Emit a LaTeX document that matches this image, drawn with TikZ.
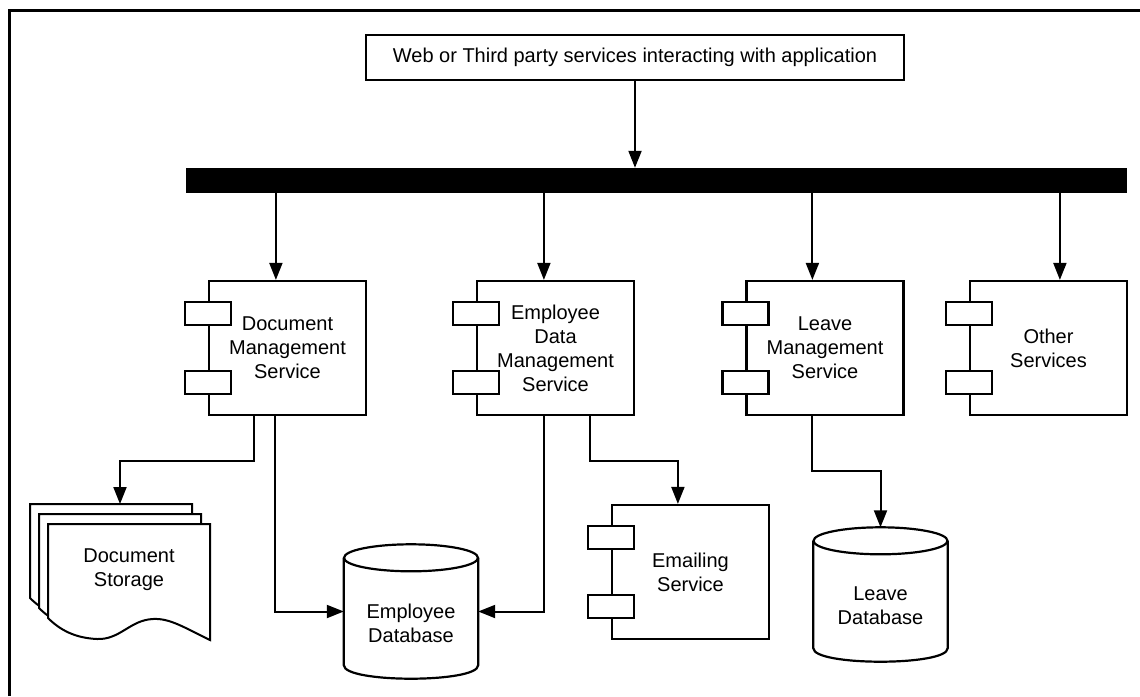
\documentclass[tikz,border=0pt]{standalone}
\usepackage{fontspec}
\setmainfont{Liberation Sans}
\usetikzlibrary{arrows.meta,calc}

\tikzset{
  svc/.style={draw,line width=2.2pt,fill=white,minimum width=157pt,minimum height=134pt,inner sep=0pt,align=center},
  port/.style={draw,line width=2.2pt,fill=white,minimum width=46pt,minimum height=23pt,inner sep=0pt},
  link/.style={line width=2pt,-{Triangle[length=17pt,width=13pt]}},
  page/.style={line width=2pt,fill=white},
  dbase/.style={minimum width=134pt,minimum height=134pt,inner sep=0pt},
  db/.style={line width=2.2pt},
}

% service box with two ports sitting on its left edge
\newcommand\svcbox[4]{%
  \node[svc] (#1) at (#2,#3) {#4};
  \node[port] (#1p1) at ($(#1.north west)+(0,33.5)$) {};
  \node[port] (#1p2) at ($(#1.south west)+(0,-33.5)$) {};
}

% cylinder outline round a dbase node
\newcommand\dbshape[1]{%
  \draw[db] ($(#1.north west)+(0,13.5)$) -- ($(#1.south west)+(0,-13.5)$)
    .. controls +(0,18) and +(0,18) .. ($(#1.south east)+(0,-13.5)$)
    -- ($(#1.north east)+(0,13.5)$);
  \draw[db] ($(#1.north)+(0,13.5)$) ellipse [x radius=67, y radius=13.5];
}

\begin{document}
\begin{tikzpicture}[x=1pt,y=-1pt,font=\fontsize{20pt}{24pt}\selectfont]
  \useasboundingbox (0,0) rectangle (1140,696);
  \draw[line width=2.5pt] (9.5,696) -- (9.5,10.5) -- (1140,10.5);

  % entry point and bus
  \node[draw,line width=2.2pt,minimum width=538pt,minimum height=45pt] (web) at (635,57.5)
    {Web or Third party services interacting with application};
  \node[fill=black,minimum width=941pt,minimum height=25pt,inner sep=0pt] (bus) at (656.5,180.5) {};

  % services
  \svcbox{docmgmt}{287.5}{348}{Document\\Management\\Service}
  \svcbox{empdata}{555.5}{348}{Employee\\Data\\Management\\Service}
  \svcbox{leave}{825}{348}{Leave\\Management\\Service}
  \svcbox{other}{1048.5}{348}{Other\\Services}
  \svcbox{email}{690.5}{572}{Emailing\\Service}

  % document storage, three stacked pages
  \foreach \dx/\dy in {18/20,9/10,0/0}
    \draw[page,shift={(-\dx,-\dy)}] (48,524) -- (210,524) -- (210,640)
      .. controls (185,628) and (170,618) .. (153,619)
      .. controls (130,620) and (120,640) .. (97,639)
      .. controls (75,638) and (60,630) .. (48,618) -- cycle;
  \node[align=center] (docstore) at (129,570) {Document\\Storage};
  \coordinate (dstop) at (120,504);

  % databases
  \node[dbase] (empdb) at (411,611.5) {};
  \dbshape{empdb}
  \node[align=center] (empdbtxt) at ($(empdb)+(0,12)$) {Employee\\Database};
  \node[dbase] (leavedb) at (880.5,594.5) {};
  \dbshape{leavedb}
  \node[align=center] (leavedbtxt) at ($(leavedb)+(0,11)$) {Leave\\Database};

  % where the arrows enter the boxes
  \coordinate (dmin) at ($(docmgmt.north west)+(68,0)$);
  \coordinate (edin) at ($(empdata.north west)+(68,0)$);
  \coordinate (lvin) at ($(leave.north west)+(67,0)$);
  \coordinate (otin) at ($(other.north west)+(91,0)$);
  \coordinate (emin) at ($(email.north west)+(67,0)$);

  \draw[link] (web.south) -- (web.south |- bus.north);
  \foreach \n in {dmin,edin,lvin,otin}
    \draw[link] (bus.south -| \n) -- (\n);

  \draw[link] ($(docmgmt.south west)+(46,0)$) -- ++(0,45) -| (dstop);
  \draw[link] ($(docmgmt.south west)+(67,0)$) |- (empdb.west);
  \draw[link] ($(empdata.south west)+(68,0)$) |- (empdb.east);
  \draw[link] ($(empdata.south west)+(114,0)$) -- ++(0,45) -| (emin);
  \draw[link] ($(leave.south west)+(67,0)$) -- ++(0,55) -| (leavedb.north);
\end{tikzpicture}
\end{document}
